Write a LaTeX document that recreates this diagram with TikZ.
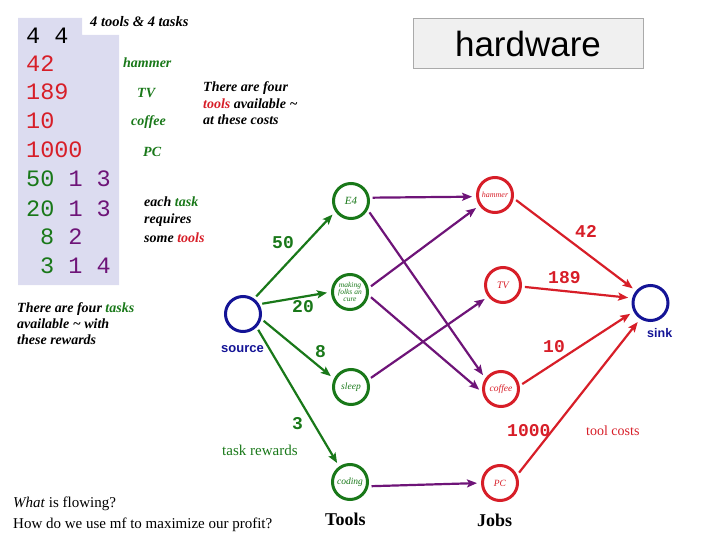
\documentclass[tikz,border=0pt]{standalone}
\usepackage{fontspec}
\setmainfont{Liberation Serif}
\setsansfont{Liberation Sans}
\setmonofont{Liberation Mono}
\usetikzlibrary{arrows.meta}
\definecolor{cgreen}{RGB}{25,120,25}
\definecolor{cpurple}{RGB}{110,20,120}
\definecolor{cred}{RGB}{215,30,40}
\definecolor{cblue}{RGB}{20,20,150}
\definecolor{lav}{RGB}{220,220,240}
\definecolor{hwfill}{RGB}{240,240,240}
\definecolor{hwdraw}{RGB}{170,170,170}
\tikzset{
  circ/.style={circle,line width=3pt,minimum size=35pt,inner sep=0pt,font=\itshape\fontsize{9.5}{9.5}\selectfont},
  task/.style={circ,draw=cgreen,text=cgreen},
  tool/.style={circ,draw=cred,text=cred},
  term/.style={circ,draw=cblue},
  edge/.style={line width=2.2pt,-{Stealth[length=10pt,width=8pt,inset=2pt]},shorten <=3pt,shorten >=4pt},
  gedge/.style={edge,draw=cgreen,fill=cgreen},
  pedge/.style={edge,draw=cpurple,fill=cpurple},
  redge/.style={edge,draw=cred,fill=cred},
  tab/.style={anchor=base west,inner sep=0pt,font=\ttfamily\fontsize{23.5}{24}\selectfont},
  elab/.style={anchor=base west,inner sep=0pt,font=\ttfamily\bfseries\fontsize{18}{18}\selectfont},
  note/.style={anchor=base west,inner sep=0pt,font=\bfseries\itshape\fontsize{14}{16}\selectfont},
  plain/.style={anchor=base west,inner sep=0pt,font=\fontsize{15}{17}\selectfont},
}
\begin{document}
\begin{tikzpicture}[x=1pt,y=-1pt]
\useasboundingbox (0,0) rectangle (720,540);
% lavender table
\fill[lav] (18,18) -- (82,18) -- (82,35) -- (119,35) -- (119,285) -- (18,285) -- cycle;
\node[tab] (r0) at (26,44) {4 4};
\node[tab,text=cred] (r1) at (26,72) {42};
\node[tab,text=cred] (r2) at (26,100) {189};
\node[tab,text=cred] (r3) at (26,129) {10};
\node[tab,text=cred] (r4) at (26,158) {1000};
\node[tab] (r5) at (26,187) {\textcolor{cgreen}{50} \textcolor{cpurple}{1 3}};
\node[tab] (r6) at (26,216) {\textcolor{cgreen}{20} \textcolor{cpurple}{1 3}};
\node[tab] (r7) at (40,244) {\textcolor{cgreen}{8} \textcolor{cpurple}{2}};
\node[tab] (r8) at (40,273) {\textcolor{cgreen}{3} \textcolor{cpurple}{1 4}};
\node[note,font=\bfseries\itshape\fontsize{14.5}{16}\selectfont] (title) at (90,27) {4 tools \& 4 tasks};
% tool names
\node[note,text=cgreen] (lh) at (123,68) {hammer};
\node[note,text=cgreen] (lt) at (137,98) {TV};
\node[note,text=cgreen] (lc) at (131,126) {coffee};
\node[note,text=cgreen] (lp) at (143,157) {PC};
% notes
\node[note] (n1a) at (203,92) {There are four};
\node[note] (n1b) at (203,109) {\textcolor{cred}{tools} available \textasciitilde};
\node[note] (n1c) at (203,125) {at these costs};
\node[note] (n2a) at (144,207) {each \textcolor{cgreen}{task}};
\node[note] (n2b) at (144,224) {requires};
\node[note] (n2c) at (144,242) {some \textcolor{cred}{tools}};
\node[note] (n3a) at (17,312) {There are four \textcolor{cgreen}{tasks}};
\node[note] (n3b) at (17,328) {available \textasciitilde{} with};
\node[note] (n3c) at (17,344) {these rewards};
% hardware box
\node[draw=hwdraw,fill=hwfill,line width=0.8pt,minimum width=230pt,minimum height=50pt,inner sep=0pt,anchor=north west] (hwbox) at (413,18) {};
\node[anchor=base,inner sep=0pt,font=\sffamily\fontsize{35}{35}\selectfont] (hw) at (528,57) {hardware};
% graph nodes
\node[term] (src) at (243,314) {};
\node[term] (sink) at (650.5,303) {};
\node[task,font=\itshape\fontsize{11}{11}\selectfont] (e4) at (351,201) {E4};
\node[task,font=\itshape\fontsize{7.5}{7.5}\selectfont,align=center] (mk) at (350,292) {making\\[-0.5pt]folks an\\[-0.5pt]cure};
\node[task] (sl) at (351,387) {sleep};
\node[task] (cd) at (350,482) {coding};
\node[tool,font=\itshape\fontsize{8}{8}\selectfont] (hm) at (495,195) {hammer};
\node[tool,font=\itshape\fontsize{10}{10}\selectfont] (tv) at (503,285) {TV};
\node[tool] (cf) at (501,389) {coffee};
\node[tool] (pc) at (500,483) {PC};
% edges
\draw[gedge] (src.54) -- (e4.214);
\draw[gedge] (src.31) -- (mk.180);
\draw[gedge] (src.-15) -- (sl.154);
\draw[gedge] (src.-44) -- (cd.125);
\draw[pedge] (e4.10) -- (hm.185);
\draw[pedge] (e4.-28) -- (cf.146);
\draw[pedge] (mk.12) -- (hm.214);
\draw[pedge] (mk.-10) -- (cf.190);
\draw[pedge] (sl.23) -- (tv.218);
\draw[pedge] (cd.-13) -- (pc.180);
\draw[redge] (hm.-10) -- (sink.140);
\draw[redge] (tv.-5) -- (sink.165);
\draw[redge] (cf.10) -- (sink.207);
\draw[redge] (pc.25) -- (sink.237);
% edge labels
\node[elab,text=cgreen] (w50) at (272,248) {50};
\node[elab,text=cgreen] (w20) at (292,312) {20};
\node[elab,text=cgreen] (w8) at (315,357) {8};
\node[elab,text=cgreen] (w3) at (292,429) {3};
\node[elab,text=cred] (c42) at (575,237) {42};
\node[elab,text=cred] (c189) at (548,283) {189};
\node[elab,text=cred] (c10) at (543,352) {10};
\node[elab,text=cred] (c1000) at (507,436) {1000};
% labels
\node[anchor=base west,inner sep=0pt,text=cblue,font=\sffamily\bfseries\fontsize{13}{13}\selectfont] (srcl) at (221,352) {source};
\node[anchor=base west,inner sep=0pt,text=cblue,font=\sffamily\bfseries\fontsize{12.5}{13}\selectfont] (sinkl) at (647,337) {sink};
\node[plain,text=cgreen] (tr) at (222,455) {task rewards};
\node[plain,font=\fontsize{14}{16}\selectfont,text=cred] (tc) at (586,435) {tool costs};
\node[plain,font=\bfseries\fontsize{18}{18}\selectfont] (tools) at (325,525) {Tools};
\node[plain,font=\bfseries\fontsize{18}{18}\selectfont] (jobs) at (477,526) {Jobs};
\node[plain] (q1) at (13,507) {\textit{What} is flowing?};
\node[plain] (q2) at (13,528) {How do we use mf to maximize our profit?};
\end{tikzpicture}
\end{document}
